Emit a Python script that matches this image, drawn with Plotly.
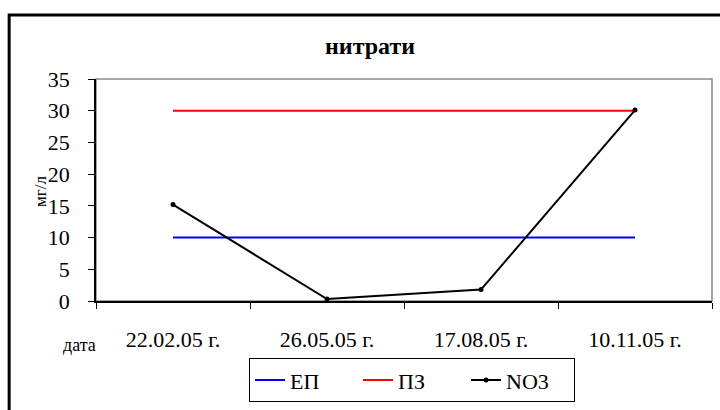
import plotly.graph_objects as go

dates = ['22.02.05 г.', '26.05.05 г.', '17.08.05 г.', '10.11.05 г.']
ep = [10, 10, 10, 10]
pz = [30, 30, 30, 30]
no3 = [15.2, 0.3, 1.8, 30.1]

FONT = 'Liberation Serif, Times New Roman, serif'

fig = go.Figure()
fig.add_trace(go.Scatter(x=dates, y=ep, name='ЕП', mode='lines',
                         line=dict(color='#0000ff', width=2)))
fig.add_trace(go.Scatter(x=dates, y=pz, name='ПЗ', mode='lines',
                         line=dict(color='#ff0000', width=2)))
fig.add_trace(go.Scatter(x=dates, y=no3, name='NO3', mode='lines+markers',
                         line=dict(color='#000000', width=2),
                         marker=dict(size=5, color='#000000')))

# plot area frame (gray) and outer chart border
fig.add_shape(type='rect', xref='paper', yref='paper', x0=0, x1=1, y0=0, y1=1,
              line=dict(color='#888888', width=1.5), layer='below')
fig.add_shape(type='rect', xref='paper', yref='paper', x0=-0.141, x1=1.2, y0=-0.6, y1=1.288,
              line=dict(color='#000000', width=3))

fig.add_annotation(text='<b>нитрати</b>', xref='paper', yref='paper', x=0.445, y=1.148,
                   xanchor='center', yanchor='middle',
                   showarrow=False, font=dict(size=24, family=FONT, color='black'))
fig.add_annotation(text='мг/л', xref='paper', yref='paper', x=-0.091, y=0.495, textangle=-90,
                   xanchor='center', yanchor='middle',
                   showarrow=False, font=dict(size=17, family=FONT, color='black'))
fig.add_annotation(text='дата', xref='paper', yref='paper', x=-0.026, y=-0.198,
                   xanchor='center', yanchor='middle',
                   showarrow=False, font=dict(size=18, family=FONT, color='black'))

fig.update_layout(
    width=720, height=410,
    margin=dict(l=96, r=8, t=79, b=102),
    paper_bgcolor='white', plot_bgcolor='white',
    font=dict(family=FONT, size=22, color='black'),
    showlegend=True,
    legend=dict(orientation='h', x=0.513, xanchor='center', y=-0.258, yanchor='top',
                bordercolor='black', borderwidth=1, font=dict(size=22, family=FONT),
                itemwidth=30, entrywidth=63),
    xaxis=dict(type='category', tickson='boundaries', ticks='outside', ticklen=6,
               tickcolor='black', showline=True, linecolor='black', linewidth=1.5,
               showgrid=False, tickfont=dict(size=22, family=FONT), range=[-0.5, 3.5],
               ticklabelstandoff=18),
    yaxis=dict(range=[0, 35], dtick=5, ticks='outside', ticklen=6, tickcolor='black',
               showline=True, linecolor='black', linewidth=1.5, showgrid=False,
               zeroline=False, tickfont=dict(size=22, family=FONT), ticklabelstandoff=14),
)

fig.write_html('out.html', config={'displayModeBar': False},
               post_script="document.body.style.margin='0';")
